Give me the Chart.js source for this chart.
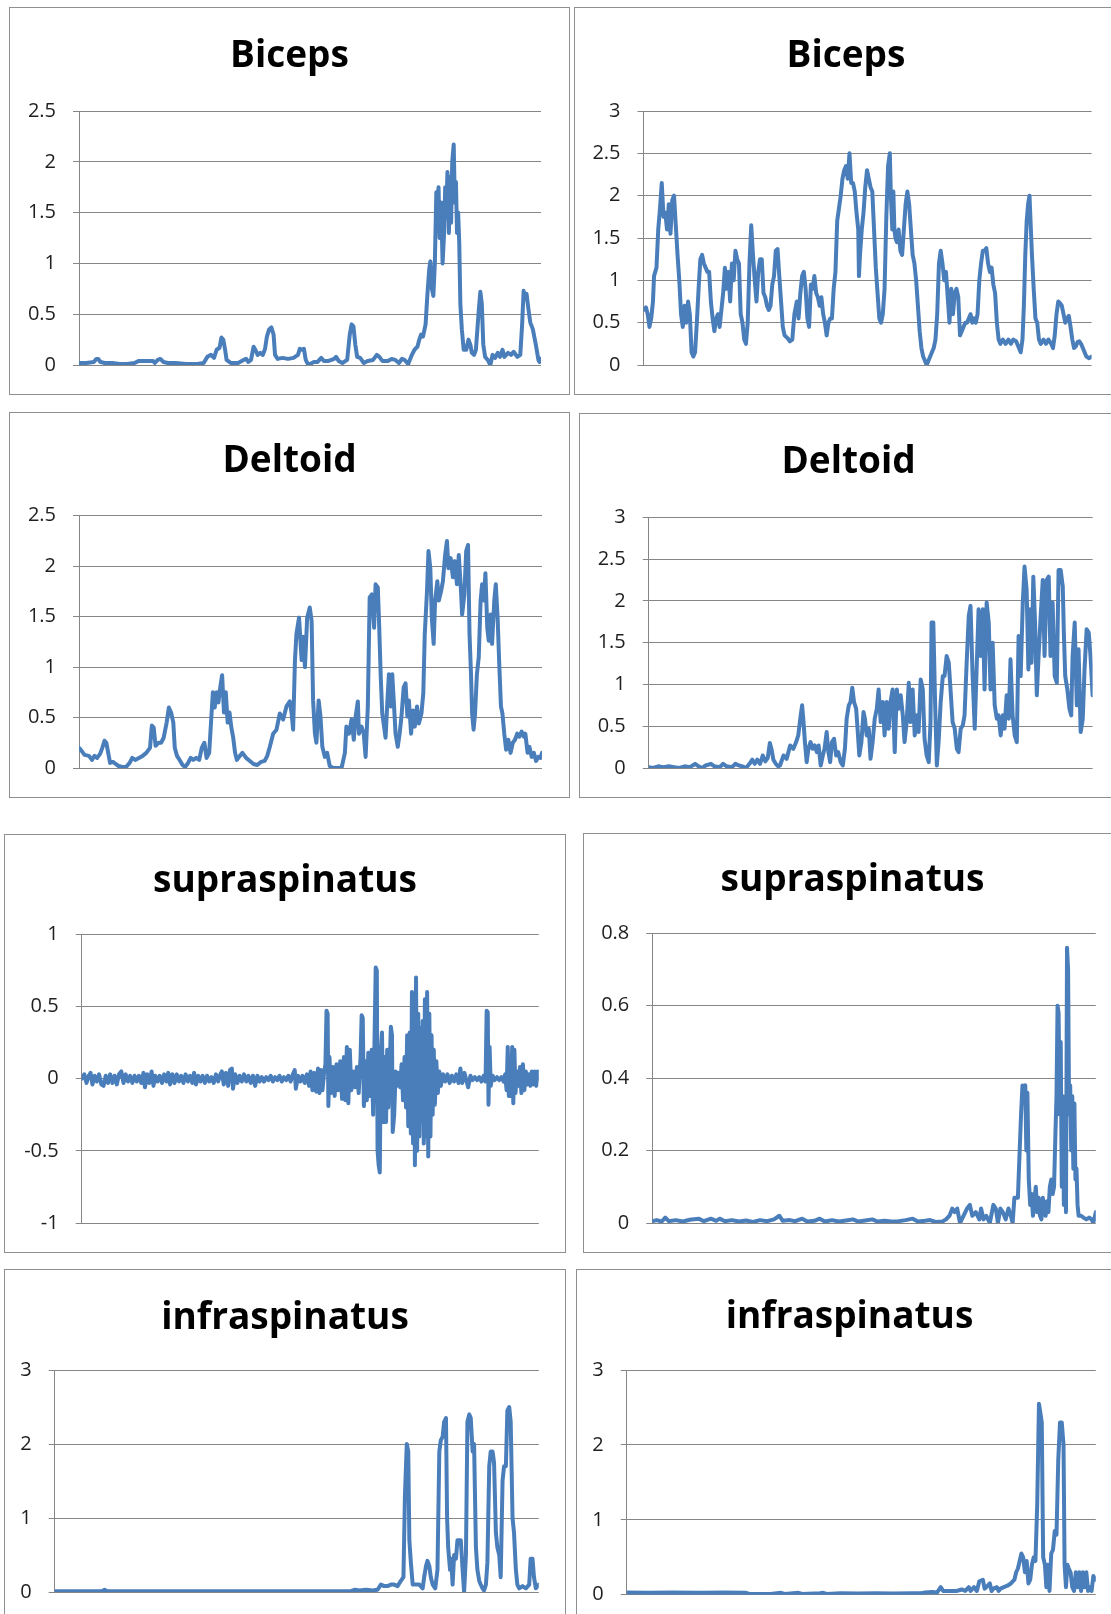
<!DOCTYPE html>
<html><head><meta charset="utf-8">
<script src="https://cdn.jsdelivr.net/npm/chart.js@4.4.1/dist/chart.umd.min.js"></script>
<style>
html,body{margin:0;padding:0;background:#fff;overflow:hidden;width:1111px;height:1614px;}
.panel{position:absolute;border:1px solid #8f8f8f;background:#fff;box-sizing:border-box;}
.panel canvas{position:absolute;left:0;top:0;}
</style></head><body>
<script>
// ---- data: [time sample, value] ----
const bicepsLeft = [[0,0.02],[20,0.02],[40,0.03],[47,0.06],[52,0.06],[58,0.03],[70,0.02],[90,0.02],[110,0.01],[130,0.01],[150,0.02],[162,0.04],[180,0.04],[200,0.04],[205,0.02],[213,0.05],[220,0.06],[228,0.03],[240,0.02],[260,0.02],[290,0.01],[320,0.01],[337,0.02],[347,0.08],[357,0.1],[365,0.07],[372,0.15],[380,0.17],[385,0.27],[390,0.25],[395,0.15],[399,0.05],[410,0.02],[430,0.02],[445,0.05],[452,0.06],[458,0.03],[465,0.05],[472,0.18],[478,0.14],[483,0.1],[490,0.12],[497,0.1],[503,0.16],[508,0.28],[514,0.35],[520,0.37],[526,0.3],[530,0.1],[537,0.06],[550,0.07],[565,0.06],[580,0.07],[592,0.1],[597,0.16],[603,0.15],[608,0.16],[613,0.05],[620,0.0],[635,0.03],[645,0.03],[655,0.07],[662,0.04],[675,0.04],[690,0.06],[695,0.08],[702,0.04],[712,0.02],[725,0.05],[732,0.3],[737,0.4],[742,0.38],[747,0.2],[752,0.08],[760,0.07],[770,0.02],[780,0.04],[795,0.05],[805,0.1],[812,0.08],[820,0.04],[835,0.04],[845,0.06],[855,0.05],[865,0.02],[873,0.06],[880,0.05],[890,0.01],[900,0.1],[907,0.15],[915,0.18],[920,0.25],[925,0.3],[930,0.28],[937,0.4],[942,0.7],[947,0.95],[950,1.02],[954,0.75],[958,0.68],[962,1.0],[966,1.7],[969,1.5],[972,1.75],[975,1.25],[979,1.6],[983,1.0],[987,1.3],[990,1.75],[993,1.45],[996,1.9],[1000,1.3],[1003,1.85],[1006,1.4],[1009,2.0],[1013,2.17],[1016,1.6],[1019,1.8],[1022,1.3],[1025,1.5],[1028,1.2],[1031,0.6],[1035,0.35],[1040,0.15],[1047,0.15],[1053,0.25],[1058,0.2],[1062,0.12],[1068,0.1],[1073,0.15],[1077,0.35],[1081,0.55],[1085,0.72],[1089,0.6],[1093,0.2],[1098,0.08],[1105,0.05],[1112,0.0],[1118,0.1],[1125,0.07],[1132,0.12],[1138,0.08],[1145,0.15],[1150,0.08],[1160,0.12],[1168,0.1],[1175,0.13],[1185,0.08],[1193,0.1],[1198,0.4],[1202,0.73],[1206,0.65],[1210,0.7],[1215,0.55],[1220,0.42],[1227,0.35],[1235,0.2],[1242,0.05],[1245,0.03],[1249,0.06]];

const bicepsRight = [[238,0.65],[245,0.68],[250,0.6],[255,0.45],[260,0.55],[265,0.75],[268,1.05],[275,1.15],[280,1.6],[285,1.85],[290,2.15],[295,1.75],[300,1.8],[305,1.6],[310,1.9],[315,1.55],[320,1.95],[325,2.0],[330,1.65],[335,1.3],[340,1.0],[345,0.6],[350,0.45],[355,0.7],[360,0.5],[365,0.75],[370,0.6],[375,0.15],[380,0.1],[385,0.15],[390,0.5],[395,0.9],[400,1.25],[405,1.3],[410,1.2],[415,1.15],[420,1.1],[425,1.1],[430,0.75],[435,0.55],[440,0.4],[445,0.55],[450,0.6],[455,0.45],[460,0.65],[465,0.85],[470,1.15],[475,0.9],[480,1.1],[485,0.75],[490,1.2],[495,1.0],[500,1.35],[505,1.25],[510,1.2],[515,0.6],[520,0.5],[525,0.3],[530,0.25],[535,0.5],[540,1.2],[545,1.65],[550,1.3],[555,1.0],[560,0.75],[565,1.1],[570,1.25],[575,1.25],[580,0.85],[585,0.8],[590,0.7],[595,0.65],[600,0.7],[605,0.95],[610,1.05],[615,1.35],[620,1.37],[625,1.05],[630,0.75],[635,0.45],[640,0.35],[648,0.32],[655,0.28],[662,0.3],[668,0.6],[675,0.75],[680,0.55],[685,0.85],[690,1.05],[695,1.1],[700,0.9],[705,0.55],[710,0.45],[715,0.95],[720,0.9],[725,1.05],[730,0.85],[735,0.8],[740,0.7],[745,0.8],[750,0.6],[755,0.5],[760,0.35],[765,0.5],[770,0.55],[775,0.55],[780,0.9],[785,1.1],[790,1.7],[795,1.85],[800,2.0],[805,2.2],[810,2.3],[815,2.35],[820,2.2],[825,2.5],[830,2.15],[835,2.15],[840,2.05],[845,1.8],[850,1.6],[852,1.05],[855,1.3],[860,1.6],[865,1.8],[870,2.1],[875,2.3],[880,2.2],[885,2.1],[890,2.05],[895,1.6],[900,1.15],[905,0.85],[910,0.55],[915,0.5],[920,0.6],[925,0.9],[930,1.75],[935,2.35],[940,2.5],[943,2.0],[947,1.6],[950,2.05],[953,1.6],[956,1.5],[960,1.45],[965,1.6],[970,1.35],[975,1.3],[980,1.6],[985,1.9],[990,2.05],[995,1.9],[1000,1.6],[1005,1.3],[1010,1.2],[1015,1.0],[1020,0.7],[1025,0.4],[1030,0.2],[1035,0.1],[1040,0.05],[1045,0.0],[1050,0.05],[1055,0.1],[1060,0.15],[1065,0.2],[1070,0.3],[1075,0.6],[1080,1.2],[1085,1.35],[1090,1.2],[1095,1.0],[1100,1.1],[1105,0.8],[1110,0.5],[1115,0.9],[1120,0.6],[1125,0.85],[1130,0.9],[1135,0.8],[1140,0.35],[1145,0.4],[1150,0.45],[1155,0.5],[1160,0.5],[1165,0.55],[1170,0.6],[1175,0.5],[1180,0.55],[1185,0.5],[1190,0.6],[1195,1.0],[1200,1.2],[1205,1.35],[1210,1.35],[1215,1.38],[1220,1.2],[1225,1.1],[1230,1.15],[1235,0.95],[1240,0.85],[1245,0.5],[1250,0.3],[1255,0.25],[1262,0.3],[1270,0.25],[1278,0.3],[1285,0.25],[1292,0.3],[1300,0.28],[1308,0.2],[1313,0.15],[1318,0.3],[1322,0.7],[1326,1.3],[1330,1.7],[1334,1.9],[1338,2.0],[1342,1.6],[1345,1.3],[1350,0.9],[1355,0.55],[1360,0.5],[1365,0.3],[1370,0.25],[1378,0.3],[1385,0.25],[1392,0.3],[1400,0.25],[1405,0.2],[1410,0.35],[1415,0.6],[1420,0.75],[1425,0.73],[1430,0.7],[1435,0.6],[1440,0.5],[1445,0.55],[1450,0.58],[1455,0.45],[1460,0.3],[1465,0.2],[1470,0.22],[1475,0.27],[1480,0.28],[1485,0.25],[1490,0.2],[1495,0.15],[1500,0.1],[1508,0.08],[1515,0.1]];

const deltoidLeft = [[213,0.2],[220,0.17],[228,0.13],[240,0.12],[248,0.08],[255,0.12],[262,0.1],[270,0.14],[276,0.2],[282,0.27],[287,0.25],[292,0.15],[297,0.05],[305,0.06],[312,0.04],[320,0.02],[330,0.01],[340,0.01],[350,0.05],[357,0.1],[365,0.08],[375,0.1],[385,0.12],[395,0.15],[405,0.2],[410,0.42],[415,0.4],[420,0.22],[428,0.25],[435,0.25],[442,0.3],[450,0.45],[456,0.6],[462,0.55],[468,0.45],[472,0.2],[478,0.12],[485,0.08],[493,0.03],[500,0.01],[508,0.05],[515,0.1],[522,0.08],[530,0.1],[538,0.08],[545,0.2],[552,0.25],[558,0.1],[565,0.15],[570,0.45],[575,0.75],[580,0.6],[585,0.75],[590,0.65],[595,0.8],[600,0.92],[605,0.55],[610,0.75],[615,0.45],[620,0.55],[625,0.4],[630,0.3],[635,0.15],[640,0.08],[648,0.12],[655,0.15],[665,0.1],[675,0.07],[685,0.04],[695,0.03],[705,0.06],[715,0.07],[722,0.12],[729,0.21],[738,0.34],[747,0.38],[756,0.54],[765,0.48],[774,0.61],[783,0.66],[788,0.54],[792,0.38],[797,1.07],[801,1.33],[808,1.49],[815,1.07],[819,1.3],[824,1.0],[830,1.49],[837,1.59],[842,1.46],[846,0.67],[851,0.34],[855,0.25],[861,0.67],[866,0.51],[871,0.21],[878,0.11],[884,0.15],[891,0.02],[900,0.0],[909,0.0],[923,0.0],[932,0.15],[936,0.41],[943,0.34],[950,0.48],[956,0.28],[961,0.51],[967,0.66],[970,0.34],[977,0.41],[983,0.34],[988,0.11],[994,0.61],[999,1.69],[1005,1.72],[1011,1.39],[1015,1.82],[1021,1.79],[1024,1.49],[1029,0.9],[1033,0.54],[1038,0.41],[1042,0.3],[1047,0.67],[1051,0.93],[1056,0.61],[1060,0.93],[1065,0.61],[1069,0.34],[1075,0.21],[1080,0.34],[1085,0.51],[1091,0.8],[1096,0.84],[1101,0.51],[1105,0.67],[1111,0.34],[1116,0.57],[1121,0.41],[1127,0.61],[1132,0.44],[1139,0.54],[1144,0.74],[1148,1.33],[1154,1.75],[1158,2.15],[1163,1.98],[1167,1.49],[1172,1.23],[1176,1.66],[1182,1.85],[1186,1.66],[1192,1.75],[1197,1.85],[1203,2.11],[1208,2.25],[1212,1.98],[1218,2.08],[1224,1.89],[1229,2.05],[1235,1.82],[1240,2.11],[1246,1.75],[1249,1.52],[1255,1.72],[1260,2.15],[1265,2.21],[1269,1.33],[1273,0.93],[1276,0.54],[1280,0.38],[1284,0.54],[1289,0.93],[1294,1.1],[1299,1.66],[1303,1.82],[1308,1.66],[1312,1.93],[1317,1.39],[1321,1.26],[1326,1.52],[1330,1.23],[1336,1.66],[1340,1.82],[1345,1.49],[1349,1.07],[1354,0.61],[1358,0.54],[1363,0.34],[1368,0.18],[1374,0.28],[1380,0.15],[1386,0.25],[1392,0.28],[1398,0.34],[1404,0.31],[1410,0.36],[1416,0.31],[1420,0.34],[1426,0.15],[1431,0.21],[1437,0.11],[1443,0.15],[1449,0.07],[1455,0.11],[1461,0.1],[1465,0.15]];

const deltoidRight = [[253,0.01],[265,0.0],[280,0.02],[295,0.01],[310,0.02],[325,0.01],[340,0.0],[355,0.02],[370,0.01],[385,0.05],[395,0.02],[405,0.0],[415,0.03],[430,0.05],[440,0.02],[455,0.01],[465,0.05],[475,0.02],[490,0.01],[500,0.05],[510,0.03],[520,0.02],[530,0.0],[540,0.05],[548,0.1],[555,0.05],[562,0.1],[570,0.05],[578,0.15],[585,0.08],[592,0.12],[598,0.3],[603,0.22],[608,0.1],[615,0.05],[622,0.02],[627,0.03],[637,0.15],[646,0.11],[656,0.27],[665,0.23],[673,0.31],[679,0.39],[686,0.63],[690,0.75],[694,0.55],[698,0.31],[703,0.07],[708,0.23],[714,0.31],[720,0.23],[726,0.27],[732,0.19],[737,0.27],[743,0.03],[749,0.15],[754,0.23],[760,0.43],[765,0.19],[770,0.07],[775,0.31],[781,0.35],[787,0.15],[793,0.19],[800,0.07],[806,0.03],[812,0.23],[817,0.59],[823,0.75],[828,0.79],[833,0.96],[838,0.79],[844,0.71],[848,0.47],[853,0.15],[859,0.31],[865,0.67],[869,0.59],[874,0.39],[880,0.47],[885,0.11],[891,0.31],[897,0.59],[903,0.71],[908,0.94],[914,0.55],[920,0.79],[925,0.39],[931,0.79],[937,0.47],[942,0.79],[948,0.94],[954,0.19],[960,0.94],[965,0.71],[971,0.87],[977,0.63],[982,0.31],[988,0.55],[994,1.02],[999,0.55],[1005,0.94],[1011,0.39],[1017,0.63],[1022,0.43],[1028,1.06],[1034,0.94],[1039,0.35],[1045,0.15],[1051,0.07],[1056,0.55],[1059,1.74],[1064,1.74],[1069,0.79],[1074,0.03],[1079,0.31],[1085,0.79],[1091,1.1],[1096,1.1],[1102,1.34],[1108,1.26],[1113,0.94],[1119,0.55],[1125,0.47],[1131,0.23],[1136,0.19],[1142,0.47],[1148,0.51],[1153,0.63],[1159,1.26],[1165,1.82],[1170,1.94],[1176,1.1],[1182,0.47],[1188,1.26],[1193,1.9],[1199,1.34],[1205,1.9],[1210,0.94],[1216,1.98],[1222,1.74],[1227,0.94],[1233,1.5],[1239,0.75],[1245,0.59],[1250,0.63],[1256,0.39],[1262,0.63],[1267,0.47],[1273,0.87],[1279,0.59],[1284,1.3],[1290,0.63],[1296,0.39],[1302,0.31],[1307,1.58],[1313,1.1],[1319,1.98],[1324,2.41],[1330,2.13],[1335,1.18],[1340,1.9],[1344,1.26],[1349,2.29],[1354,1.74],[1359,0.87],[1364,1.34],[1370,1.82],[1376,2.25],[1381,1.34],[1387,2.25],[1393,2.29],[1398,1.34],[1404,1.98],[1410,1.1],[1416,1.02],[1421,2.37],[1427,2.37],[1433,2.17],[1436,1.62],[1440,1.1],[1446,0.94],[1452,0.71],[1457,0.63],[1461,1.34],[1467,1.74],[1473,0.75],[1478,1.42],[1484,0.43],[1490,0.59],[1495,1.18],[1501,1.66],[1507,1.62],[1512,1.34],[1518,0.87]];

const supraLeft = [[221,0.0],[228,0.03],[234,-0.03],[240,0.02],[245,0.04],[250,-0.04],[256,0.02],[262,-0.02],[268,0.03],[274,-0.04],[280,-0.05],[286,0.02],[292,-0.03],[298,0.03],[304,-0.03],[310,0.02],[316,-0.04],[322,0.03],[328,0.05],[334,-0.03],[340,0.03],[346,-0.02],[352,0.02],[358,-0.03],[364,0.02],[370,-0.02],[376,0.02],[382,-0.03],[388,0.04],[392,-0.06],[398,0.03],[404,-0.03],[410,0.05],[415,-0.05],[420,0.02],[426,-0.02],[432,0.02],[438,-0.03],[444,0.03],[450,-0.02],[455,0.04],[460,-0.04],[466,0.03],[472,-0.03],[478,0.03],[484,-0.02],[490,0.02],[496,-0.03],[502,0.03],[508,-0.02],[514,0.02],[520,-0.03],[525,0.04],[530,-0.04],[536,0.02],[542,-0.02],[548,0.02],[554,-0.03],[560,0.02],[566,-0.02],[572,0.01],[578,-0.03],[584,0.03],[590,-0.02],[596,0.03],[600,0.05],[605,-0.04],[611,0.04],[617,-0.05],[622,0.06],[627,0.07],[630,-0.07],[636,0.03],[642,-0.03],[648,0.02],[654,-0.02],[660,0.03],[666,-0.02],[672,0.02],[678,-0.03],[684,0.02],[690,-0.05],[696,0.02],[702,-0.02],[708,0.01],[714,-0.02],[720,0.01],[726,-0.01],[732,0.02],[738,-0.02],[744,0.01],[750,-0.01],[756,0.02],[762,-0.02],[768,0.01],[774,-0.01],[780,0.02],[786,-0.02],[792,0.03],[797,0.06],[800,-0.07],[806,0.02],[812,-0.02],[818,0.02],[824,-0.03],[830,0.03],[836,-0.05],[840,0.05],[845,-0.08],[850,0.04],[855,-0.09],[860,0.07],[864,-0.1],[868,0.06],[872,-0.08],[876,0.03],[880,0.1],[883,0.47],[886,0.45],[888,-0.19],[891,0.15],[895,-0.1],[900,0.08],[905,-0.12],[910,0.1],[915,-0.08],[920,0.12],[925,-0.14],[930,0.15],[934,-0.15],[938,0.22],[942,-0.17],[946,0.2],[950,-0.08],[955,0.05],[960,-0.06],[965,0.08],[970,-0.1],[975,0.15],[978,0.44],[981,0.42],[984,-0.19],[988,0.12],[992,-0.15],[996,0.18],[1000,-0.12],[1005,0.2],[1009,-0.25],[1013,0.3],[1016,0.77],[1019,0.75],[1021,-0.5],[1024,-0.6],[1027,-0.65],[1030,0.2],[1033,0.32],[1036,-0.3],[1040,0.15],[1044,-0.3],[1047,0.2],[1050,-0.2],[1054,0.1],[1057,0.36],[1060,0.3],[1062,-0.37],[1066,-0.25],[1070,0.05],[1074,-0.05],[1078,0.04],[1082,-0.06],[1086,0.1],[1090,-0.15],[1094,0.15],[1098,-0.2],[1101,0.3],[1104,-0.33],[1108,0.32],[1111,-0.38],[1114,0.6],[1117,-0.45],[1120,0.55],[1122,-0.6],[1125,0.7],[1128,-0.5],[1131,0.45],[1134,-0.4],[1137,0.35],[1140,-0.3],[1143,0.4],[1146,-0.45],[1149,0.55],[1152,-0.4],[1155,0.6],[1158,-0.54],[1161,0.45],[1164,-0.4],[1167,0.3],[1170,-0.25],[1173,0.2],[1176,-0.18],[1180,0.12],[1184,-0.1],[1188,0.05],[1192,-0.05],[1198,0.03],[1204,-0.02],[1210,0.03],[1216,-0.03],[1222,0.02],[1228,-0.02],[1234,0.03],[1240,-0.03],[1245,0.07],[1250,-0.03],[1256,0.04],[1262,-0.02],[1266,-0.06],[1272,0.02],[1278,-0.01],[1284,0.01],[1290,-0.01],[1296,0.01],[1302,-0.02],[1308,0.02],[1313,-0.02],[1316,0.47],[1319,0.46],[1321,-0.18],[1324,0.22],[1327,-0.05],[1332,0.02],[1338,-0.01],[1344,0.01],[1350,-0.01],[1356,0.01],[1362,-0.02],[1366,0.03],[1370,-0.08],[1373,0.22],[1376,-0.12],[1379,0.15],[1382,-0.12],[1385,0.22],[1388,-0.17],[1391,0.2],[1394,-0.1],[1398,0.05],[1402,-0.05],[1406,0.08],[1410,-0.1],[1414,0.1],[1418,-0.08],[1422,0.05],[1426,-0.04],[1430,0.03],[1434,-0.05],[1438,0.05],[1442,-0.04],[1446,0.05],[1450,-0.05],[1454,0.05],[1457,0.0]];

const supraRight = [[263,0.005],[275,0.008],[290,0.004],[300,0.015],[310,0.005],[330,0.008],[350,0.004],[370,0.009],[395,0.012],[410,0.005],[430,0.012],[445,0.006],[455,0.012],[470,0.005],[490,0.008],[510,0.004],[530,0.007],[550,0.003],[570,0.008],[590,0.005],[610,0.01],[625,0.02],[635,0.006],[655,0.008],[670,0.005],[690,0.012],[705,0.004],[725,0.006],[740,0.012],[755,0.004],[775,0.008],[795,0.004],[815,0.007],[835,0.01],[850,0.004],[870,0.007],[890,0.01],[905,0.004],[925,0.006],[945,0.004],[965,0.005],[985,0.008],[1005,0.012],[1020,0.004],[1040,0.006],[1055,0.008],[1070,0.003],[1090,0.004],[1100,0.01],[1110,0.02],[1118,0.04],[1125,0.03],[1132,0.04],[1140,0.0],[1150,0.02],[1160,0.04],[1168,0.05],[1175,0.02],[1185,0.03],[1195,0.01],[1200,0.04],[1207,0.01],[1215,0.02],[1225,0.0],[1235,0.05],[1242,0.04],[1248,0.0],[1255,0.04],[1262,0.03],[1270,0.01],[1278,0.04],[1285,0.02],[1290,0.0],[1295,0.07],[1305,0.07],[1310,0.2],[1314,0.3],[1318,0.38],[1322,0.37],[1326,0.38],[1329,0.2],[1332,0.36],[1336,0.12],[1340,0.05],[1344,0.08],[1348,0.02],[1352,0.06],[1356,0.1],[1360,0.03],[1364,0.07],[1368,0.02],[1372,0.01],[1376,0.07],[1380,0.04],[1384,0.02],[1388,0.06],[1392,0.03],[1396,0.1],[1400,0.12],[1404,0.08],[1408,0.1],[1412,0.25],[1415,0.35],[1418,0.6],[1421,0.58],[1424,0.3],[1427,0.5],[1430,0.1],[1433,0.35],[1436,0.05],[1439,0.3],[1442,0.03],[1445,0.76],[1448,0.7],[1451,0.3],[1454,0.38],[1457,0.2],[1460,0.35],[1463,0.15],[1466,0.33],[1469,0.12],[1472,0.15],[1475,0.05],[1478,0.02],[1485,0.02],[1492,0.015],[1500,0.01],[1508,0.015],[1515,0.01],[1520,0.0],[1527,0.03]];

const infraLeft = [[148,0.01],[200,0.01],[260,0.01],[275,0.01],[283,0.03],[290,0.01],[400,0.01],[600,0.01],[800,0.01],[900,0.01],[950,0.015],[960,0.03],[972,0.02],[990,0.03],[1008,0.02],[1021,0.03],[1030,0.1],[1039,0.08],[1048,0.08],[1057,0.1],[1066,0.1],[1075,0.08],[1084,0.15],[1091,0.2],[1095,1.3],[1100,2.0],[1104,1.9],[1107,0.7],[1111,0.4],[1116,0.1],[1125,0.1],[1134,0.1],[1143,0.05],[1147,0.2],[1152,0.35],[1156,0.42],[1161,0.35],[1165,0.2],[1170,0.1],[1177,0.05],[1183,0.3],[1188,1.9],[1192,2.05],[1197,2.1],[1201,2.3],[1206,2.35],[1209,1.0],[1212,0.6],[1217,0.3],[1220,0.45],[1224,0.1],[1228,0.5],[1233,0.45],[1237,0.7],[1242,0.7],[1246,0.7],[1251,0.3],[1255,0.0],[1260,0.5],[1264,2.3],[1269,2.4],[1273,2.35],[1278,1.9],[1282,2.0],[1287,0.6],[1291,0.3],[1296,0.15],[1300,0.1],[1305,0.05],[1309,0.02],[1314,0.1],[1318,0.4],[1323,1.7],[1327,1.9],[1332,1.9],[1336,1.75],[1341,0.8],[1345,0.6],[1350,0.5],[1354,0.2],[1359,1.5],[1363,1.7],[1368,1.7],[1372,2.45],[1377,2.5],[1381,2.3],[1386,1.0],[1390,0.8],[1395,0.3],[1399,0.1],[1404,0.05],[1413,0.08],[1422,0.05],[1431,0.1],[1435,0.45],[1440,0.45],[1444,0.2],[1449,0.05],[1457,0.1]];

const infraRight = [[190,0.03],[250,0.025],[320,0.03],[400,0.025],[470,0.03],[530,0.025],[540,0.01],[600,0.01],[630,0.025],[640,0.01],[680,0.025],[690,0.01],[740,0.02],[750,0.025],[760,0.01],[800,0.02],[850,0.015],[900,0.02],[950,0.015],[1000,0.02],[1030,0.02],[1040,0.03],[1060,0.035],[1075,0.03],[1085,0.1],[1092,0.05],[1100,0.05],[1115,0.05],[1130,0.05],[1145,0.07],[1155,0.05],[1165,0.1],[1170,0.05],[1180,0.1],[1188,0.05],[1195,0.18],[1205,0.2],[1210,0.08],[1215,0.1],[1225,0.15],[1230,0.05],[1235,0.08],[1245,0.1],[1250,0.05],[1255,0.08],[1265,0.1],[1275,0.12],[1285,0.15],[1295,0.2],[1300,0.3],[1305,0.35],[1310,0.45],[1315,0.55],[1320,0.5],[1325,0.3],[1330,0.45],[1335,0.15],[1340,0.2],[1345,0.4],[1350,0.5],[1355,0.45],[1360,1.2],[1365,2.55],[1370,2.4],[1373,2.3],[1377,0.5],[1382,0.4],[1386,0.1],[1390,0.4],[1395,0.05],[1400,0.55],[1405,0.6],[1410,0.85],[1415,0.8],[1420,1.8],[1425,2.3],[1430,2.3],[1435,2.0],[1438,0.4],[1442,0.1],[1446,0.4],[1450,0.35],[1455,0.3],[1460,0.1],[1465,0.05],[1470,0.3],[1475,0.1],[1480,0.3],[1485,0.05],[1490,0.3],[1495,0.1],[1500,0.3],[1505,0.05],[1510,0.1],[1515,0.05],[1520,0.25],[1527,0.2]];

// ---- tick values ----
const ticks25 = [0, 0.5, 1, 1.5, 2, 2.5];
const ticks3half = [0, 0.5, 1, 1.5, 2, 2.5, 3];
const ticksPM1 = [-1, -0.5, 0, 0.5, 1];
const ticks08 = [0, 0.2, 0.4, 0.6, 0.8];
const ticks3 = [0, 1, 2, 3];

// ---- titles ----
const titles = ['Biceps', 'Biceps', 'Deltoid', 'Deltoid', 'supraspinatus', 'supraspinatus', 'infraspinatus', 'infraspinatus'];

// ---- layout (page pixels) ----
const panels = [
  {data: bicepsLeft,   ticks: ticks25,    box: [9, 7, 570, 395],      plot: [79, 111, 541, 366],          base: 66.7},
  {data: bicepsRight,  ticks: ticks3half, box: [574, 7, 1118, 395],   plot: [643.5, 111, 1091.6, 366],    base: 66.7},
  {data: deltoidLeft,  ticks: ticks25,    box: [9, 412, 570, 798],    plot: [79, 515.7, 542, 768.7],      base: 471.7},
  {data: deltoidRight, ticks: ticks3half, box: [579, 413, 1118, 798], plot: [648.8, 517.3, 1092.6, 769],  base: 472.7},
  {data: supraLeft,    ticks: ticksPM1,   box: [4, 834, 566, 1253],   plot: [81.7, 934.3, 538.8, 1224.7], base: 891.7},
  {data: supraRight,   ticks: ticks08,    box: [583, 833, 1122, 1253],plot: [652.3, 933.3, 1095.8, 1224.3], base: 890.7},
  {data: infraLeft,    ticks: ticks3,     box: [4, 1269, 566, 1700],  plot: [54.7, 1370, 538.8, 1592],    base: 1328.3},
  {data: infraRight,   ticks: ticks3,     box: [576, 1269, 1123, 1700], plot: [626.7, 1370, 1095.8, 1594.7], base: 1327.3}
];

const GRID = '#868686';
const LINE = '#4a7ebb';
const TITLE_SIZE = 37, TITLE_LH = 1.2;
const FONT = '"Open Sans", "Noto Sans", sans-serif';

panels.forEach((p, i) => {
  const [l, t, r, b] = p.box;
  const div = document.createElement('div');
  div.className = 'panel';
  div.style.left = l + 'px'; div.style.top = t + 'px';
  div.style.width = (r - l) + 'px'; div.style.height = (b - t) + 'px';
  const cv = document.createElement('canvas');
  const cw = r - l - 2, ch = b - t - 2;
  cv.width = cw; cv.height = ch;
  cv.style.width = cw + 'px'; cv.style.height = ch + 'px';
  div.appendChild(cv);
  document.body.appendChild(div);

  const cl = l + 1, ct = t + 1;
  const padRight = cl + cw - p.plot[2];
  const yW = p.plot[0] - cl;
  const padBottom = ct + ch - p.plot[3];
  const plotTopRel = p.plot[1] - ct;
  const mid = p.base - 9.9 - ct;
  const tPadTop = mid - TITLE_SIZE * TITLE_LH / 2;
  const tPadBot = plotTopRel - tPadTop - TITLE_SIZE * TITLE_LH;

  const pts = p.data.map(d => ({x: d[0], y: d[1]}));
  const tk = p.ticks;

  new Chart(cv, {
    type: 'line',
    data: {datasets: [{
      data: pts, borderColor: LINE, borderWidth: 4, pointRadius: 0, tension: 0,
      fill: false, borderJoinStyle: 'round', borderCapStyle: 'round'
    }]},
    options: {
      responsive: false, animation: false, devicePixelRatio: 1,
      events: [],
      layout: {padding: {left: 0, right: 0, top: 0, bottom: padBottom}},
      plugins: {
        legend: {display: false},
        tooltip: {enabled: false},
        title: {
          display: true, text: titles[i], color: '#000',
          font: {family: FONT, size: TITLE_SIZE, weight: 'bold', lineHeight: TITLE_LH},
          padding: {top: tPadTop, bottom: tPadBot}
        }
      },
      scales: {
        x: {type: 'linear', display: false, min: p.data[0][0], max: p.data[p.data.length - 1][0]},
        y: {
          position: 'left',
          min: tk[0], max: tk[tk.length - 1],
          afterBuildTicks: s => { s.ticks = tk.map(v => ({value: v})); },
          afterFit: s => { s.width = yW; },
          grid: {color: GRID, lineWidth: 1, tickLength: 6, drawTicks: true},
          border: {display: true, color: GRID, width: 1},
          ticks: {padding: 17, color: '#1f1f1f', autoSkip: false,
            font: {family: FONT, size: 20},
            callback: v => String(v)}
        },
        spacer: {
          type: 'linear', position: 'right', display: true, min: 0, max: 1,
          grid: {display: false, drawTicks: false}, border: {display: false},
          ticks: {display: false},
          afterFit: s => { s.width = padRight; }
        }
      }
    }
  });
});
</script>
</body></html>
